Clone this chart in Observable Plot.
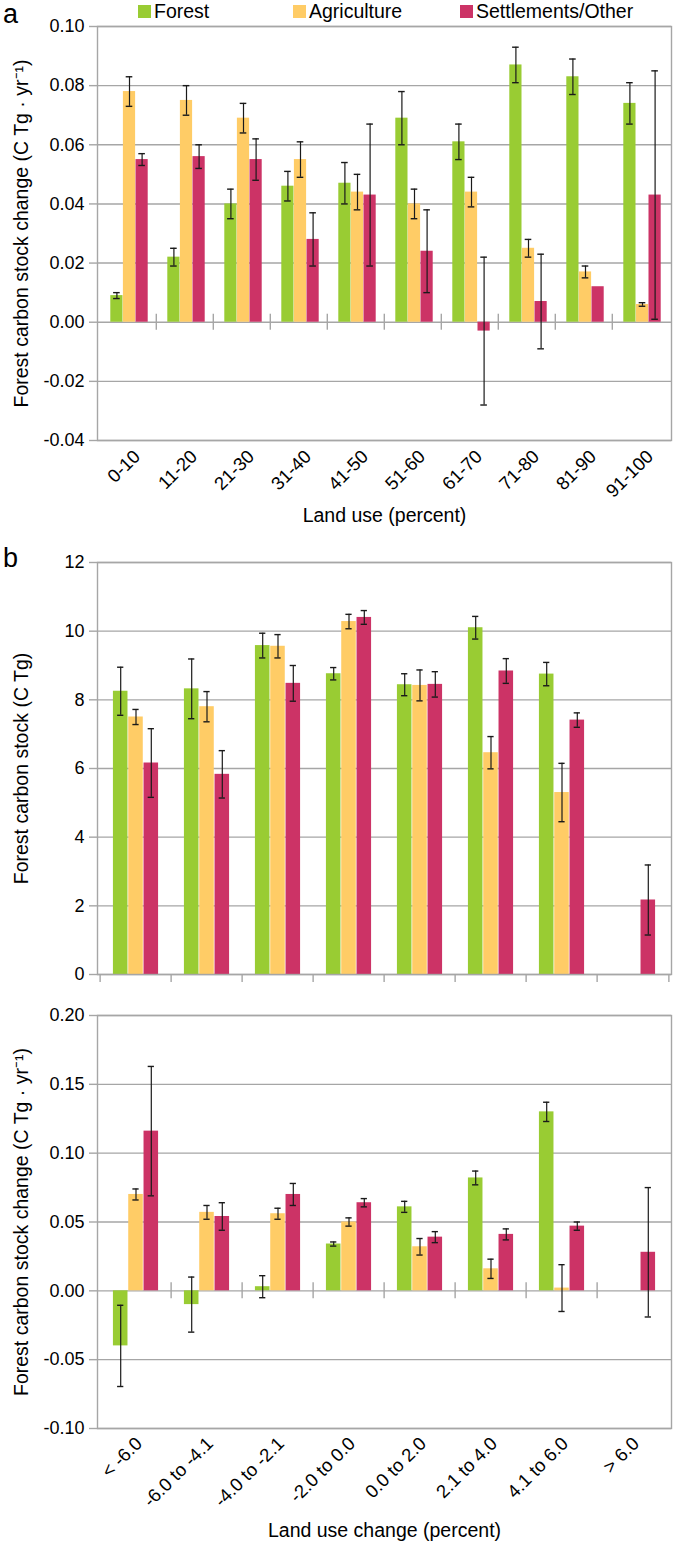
<!DOCTYPE html>
<html><head><meta charset="utf-8">
<script src="https://cdn.jsdelivr.net/npm/d3@7"></script>
<script src="https://cdn.jsdelivr.net/npm/@observablehq/plot@0.6"></script>
<style>
body{margin:0;background:#fff;}
#root{position:relative;width:675px;height:1545px;overflow:hidden;font-family:"Liberation Sans",Arial,sans-serif;color:#000;background:#fff;}
.panel{position:absolute;left:0;}
.tag{position:absolute;font-size:27px;line-height:1;}
.leg{position:absolute;top:2px;display:flex;align-items:center;font-size:19.5px;line-height:1;}
.leg i{display:inline-block;width:13px;height:13px;margin-right:3px;}
</style></head><body><div id="root"></div>
<script>
const series = ["Forest", "Agriculture", "Settlements/Other"];
const colors = ["#99cc33", "#ffcc66", "#cc3366"];

// Panel a: carbon stock change by land use
const catsA = ["0-10","11-20","21-30","31-40","41-50","51-60","61-70","71-80","81-90","91-100"];
const forestA = [0.009,0.022,0.040,0.046,0.047,0.069,0.061,0.087,0.083,0.074];
const forestAErr = [0.001,0.003,0.005,0.005,0.007,0.009,0.006,0.006,0.006,0.007];
const agricultureA = [0.078,0.075,0.069,0.055,0.044,0.040,0.044,0.025,0.017,0.006];
const agricultureAErr = [0.005,0.005,0.005,0.006,0.006,0.005,0.005,0.003,0.002,0.0006];
const settlementsA = [0.055,0.056,0.055,0.028,0.043,0.024,-0.003,0.007,0.012,0.043];
const settlementsAErr = [0.002,0.004,0.007,0.009,0.024,0.014,0.025,0.016,null,0.042];
const yTicksA = [-0.04,-0.02,0,0.02,0.04,0.06,0.08,0.10];

// Panel b (top): carbon stock by land use change
const catsB = ["< -6.0","-6.0 to -4.1","-4.0 to -2.1","-2.0 to 0.0","0.0 to 2.0","2.1 to 4.0","4.1 to 6.0","> 6.0"];
const forestB = [8.25,8.32,9.58,8.76,8.44,10.1,8.75,null];
const forestBErr = [0.70,0.87,0.36,0.18,0.32,0.33,0.34,null];
const agricultureB = [7.5,7.8,9.56,10.28,8.42,6.46,5.3,null];
const agricultureBErr = [0.22,0.44,0.34,0.21,0.45,0.47,0.85,null];
const settlementsB = [6.16,5.83,8.48,10.4,8.45,8.84,7.41,2.17];
const settlementsBErr = [1.0,0.69,0.52,0.2,0.37,0.36,0.21,1.02];
const yTicksB = [0,2,4,6,8,10,12];

// Panel b (bottom): carbon stock change by land use change
const forestC = [-0.040,-0.010,0.003,0.034,0.061,0.082,0.130,null];
const forestCErr = [0.0295,0.020,0.008,0.0015,0.004,0.005,0.007,null];
const agricultureC = [0.070,0.057,0.056,0.050,0.032,0.016,0.002,null];
const agricultureCErr = [0.004,0.005,0.004,0.003,0.006,0.007,0.017,null];
const settlementsC = [0.116,0.054,0.070,0.064,0.039,0.041,0.047,0.028];
const settlementsCErr = [0.047,0.010,0.008,0.003,0.004,0.004,0.003,0.047];
const yTicksC = [-0.10,-0.05,0,0.05,0.10,0.15,0.20];

function table(cats, lists) {
  const rows = [];
  lists.forEach(([vals, errs], s) => {
    cats.forEach((c, i) => {
      if (vals[i] == null) return;
      const e = errs[i];
      rows.push({cat: c, series: series[s], value: vals[i],
        lo: e == null ? null : vals[i] - e, hi: e == null ? null : vals[i] + e});
    });
  });
  return rows;
}

const GRAY = "#a6a6a6";
const FONT = "Liberation Sans, Arial, sans-serif";
const ML = 97, MR = 4, WIDTH = 675;

function panel(o) {
  const n = o.cats.length;
  const W = (WIDTH - ML - MR) / n;
  const bw = o.barW;
  const marks = [Plot.gridY({ticks: o.yTicks, stroke: GRAY, strokeOpacity: 1, strokeWidth: 1.4})];
  series.forEach((s, si) => {
    const il = (W - 3 * bw) / 2 + o.shift + si * bw;
    const ir = W - il - bw;
    const center = il + bw / 2;
    const rows = o.data.filter(d => d.series === s);
    const err = rows.filter(d => d.lo != null);
    marks.push(Plot.barY(rows, {x: "cat", y: "value", fill: "series", insetLeft: il, insetRight: ir}));
    marks.push(Plot.ruleX(err, {x: "cat", y1: "lo", y2: "hi", dx: center - W / 2, stroke: "#1a1a1a", strokeWidth: 1.2}));
    for (const k of ["lo", "hi"]) {
      marks.push(Plot.tickY(err, {x: "cat", y: k, insetLeft: center - 3.5, insetRight: W - center - 3.5, stroke: "#1a1a1a", strokeWidth: 1.4}));
    }
  });
  marks.push(Plot.frame({stroke: GRAY, strokeWidth: 1.4}));
  marks.push(Plot.axisY({ticks: o.yTicks, tickFormat: o.yFmt, tickSize: 8, tickPadding: 5, stroke: GRAY, strokeWidth: 1.4, fill: "#000", fontSize: 18, label: null}));
  // category separators on the zero line
  if (o.zeroBottom) {
    marks.push(Plot.ruleX(o.cats, {x: d => d, y1: d => 0, y2: d => 0, dx: -W / 2, insetTop: 0, insetBottom: -8, stroke: GRAY, strokeWidth: 1.4}));
    marks.push(Plot.ruleX(o.cats.slice(-1), {x: d => d, y1: d => 0, y2: d => 0, dx: W / 2, insetTop: 0, insetBottom: -8, stroke: GRAY, strokeWidth: 1.4}));
  } else {
    marks.push(Plot.ruleX(o.cats.slice(1), {x: d => d, y1: d => 0, y2: d => 0, dx: -W / 2, insetTop: -8, insetBottom: -8, stroke: GRAY, strokeWidth: 1.4}));
  }
  if (o.xLabels) {
    marks.push(Plot.axisX({tickSize: 0, tickRotate: -45, tickPadding: o.tickPad, dx: o.xDx, fontSize: 18.5, fill: "#000", label: null}));
  }
  if (o.xTitle) {
    marks.push(Plot.text([o.xTitle], {frameAnchor: "bottom", lineAnchor: "middle", textAnchor: "middle", dy: o.xTitleDy, fontSize: 19.5, fill: "#000"}));
  }
  marks.push(Plot.text([o.yTitle], {frameAnchor: "left", textAnchor: "middle", lineAnchor: "middle", rotate: -90, dx: -76, fontSize: 19.5, fill: "#000"}));
  const svg = Plot.plot({
    width: WIDTH, height: o.height,
    marginLeft: ML, marginRight: MR, marginTop: o.mt, marginBottom: o.mb,
    style: {fontFamily: FONT, fontSize: "18px", color: "#000", background: "transparent", overflow: "visible"},
    x: {domain: o.cats, padding: 0, axis: null},
    y: {domain: o.yDomain, axis: null},
    color: {domain: series, range: colors},
    marks
  });
  const wrap = document.createElement("div");
  wrap.className = "panel";
  wrap.style.top = o.top + "px";
  wrap.appendChild(svg);
  return wrap;
}

const root = document.getElementById("root");
const f2 = d => d.toFixed(2);

root.appendChild(panel({
  cats: catsA, top: 0, height: 530, mt: 26, mb: 90, barW: 12.6, shift: 1.5,
  data: table(catsA, [[forestA, forestAErr], [agricultureA, agricultureAErr], [settlementsA, settlementsAErr]]),
  yDomain: [-0.04, 0.10], yTicks: yTicksA, yFmt: f2,
  yTitle: "Forest carbon stock change (C Tg · yr⁻¹)",
  xLabels: true, tickPad: 13, xDx: 9, xTitle: "Land use (percent)", xTitleDy: 75
}));
root.appendChild(panel({
  cats: catsB, top: 540, height: 454, mt: 22, mb: 20, barW: 15.3, shift: 0,
  data: table(catsB, [[forestB, forestBErr], [agricultureB, agricultureBErr], [settlementsB, settlementsBErr]]),
  yDomain: [0, 12], yTicks: yTicksB, yFmt: d => String(d),
  yTitle: "Forest carbon stock (C Tg)", zeroBottom: true, xLabels: false
}));
root.appendChild(panel({
  cats: catsB, top: 994, height: 551, mt: 21, mb: 117, barW: 15.3, shift: 0,
  data: table(catsB, [[forestC, forestCErr], [agricultureC, agricultureCErr], [settlementsC, settlementsCErr]]),
  yDomain: [-0.10, 0.20], yTicks: yTicksC, yFmt: f2,
  yTitle: "Forest carbon stock change (C Tg · yr⁻¹)",
  xLabels: true, tickPad: 12, xDx: 3, xTitle: "Land use change (percent)", xTitleDy: 102
}));

// legend + panel tags
const legPos = [138, 293, 460];
series.forEach((s, i) => {
  const d = document.createElement("div");
  d.className = "leg";
  d.style.left = legPos[i] + "px";
  d.innerHTML = `<i style="background:${colors[i]}"></i><span>${s}</span>`;
  root.appendChild(d);
});
[["a", 3, 1], ["b", 3, 545]].forEach(([t, x, y]) => {
  const d = document.createElement("div");
  d.className = "tag";
  d.textContent = t;
  d.style.left = x + "px";
  d.style.top = y + "px";
  root.appendChild(d);
});
</script></body></html>
